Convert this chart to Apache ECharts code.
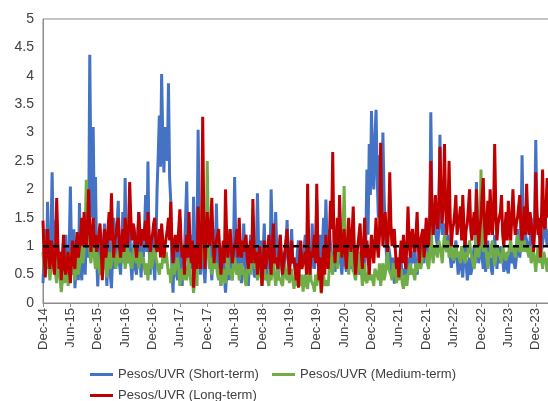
<!DOCTYPE html>
<html>
<head>
<meta charset="utf-8">
<script src="https://cdn.jsdelivr.net/npm/echarts@6/dist/echarts.min.js"></script>
<style>html,body{margin:0;padding:0;background:#fff}#c{width:548px;height:401px}</style>
</head>
<body>
<div id="c"></div>
<script>
// Four readings per month, starting Dec-14 (month index 0), ending Feb-24
var seriesNames = ['Pesos/UVR (Short-term)', 'Pesos/UVR (Medium-term)', 'Pesos/UVR (Long-term)'];
var monthNames = ['Jan','Feb','Mar','Apr','May','Jun','Jul','Aug','Sep','Oct','Nov','Dec'];
var referenceLevel = 1;

var shortTerm = [
  0.35,0.9,1.3,0.6, 1.78,0.8,0.5,1.2, 2.3,1.1,0.7,1.4, 1.5,0.8,0.45,0.9, 0.26,0.7,1.1,0.5,
  1.2,0.4,0.6,1.0, 2.05,0.9,0.5,1.3, 0.26,0.6,1.0,0.4, 1.76,0.7,0.4,1.1, 0.9,0.5,1.3,0.8,
  1.2,4.37,2.2,1.5, 3.1,1.4,2.22,0.8, 0.29,0.8,1.1,0.5, 0.6,1.1,1.4,0.7, 0.3,0.9,1.2,0.5,
  0.26,0.8,1.5,0.6, 0.9,1.4,1.8,0.7, 0.5,1.0,1.6,0.8, 2.2,1.0,0.7,1.3, 1.4,0.7,0.4,0.9,
  1.1,0.6,0.5,1.2, 1.6,0.8,0.45,1.0, 0.8,1.3,1.9,0.9, 2.49,1.0,0.5,1.1, 1.2,0.7,0.4,1.0,
  2.0,2.6,3.3,2.4, 4.03,2.9,2.3,3.1, 3.1,2.5,3.87,2.2, 1.8,0.6,0.18,0.9, 1.0,0.5,0.4,1.1,
  1.5,0.7,0.3,0.8, 0.9,1.5,2.14,1.0, 0.5,0.9,1.2,0.6, 1.87,0.8,0.3,1.0, 3.05,1.2,0.5,0.9,
  1.2,0.6,0.35,0.8, 0.9,1.2,1.5,0.7, 0.4,0.9,1.3,0.6, 1.75,0.9,0.5,1.0, 0.3,0.7,1.0,0.5,
  0.18,0.5,0.8,0.4, 1.3,0.7,0.4,0.9, 2.22,1.1,0.6,1.0, 0.9,0.5,0.35,0.8, 1.4,0.8,0.5,1.0,
  0.3,0.7,1.2,0.6, 0.8,0.5,0.45,0.9, 1.93,1.0,0.6,1.1, 0.5,0.9,1.4,0.7, 0.4,0.8,1.1,0.6,
  2.0,1.2,0.7,1.0, 1.6,0.9,0.5,0.8, 1.2,0.7,0.45,0.9, 0.7,1.0,1.46,0.8, 0.55,0.9,1.3,0.7,
  0.8,0.6,0.5,0.9, 1.1,0.7,0.6,0.9, 0.7,1.0,1.2,0.6, 0.5,0.8,1.0,0.6, 1.4,0.8,0.6,1.0,
  1.82,1.0,0.7,1.2, 0.6,1.0,1.5,0.8, 1.82,1.1,0.8,1.3, 1.3,0.8,0.6,0.9, 0.55,0.8,1.0,0.7,
  1.1,0.7,0.5,0.8, 0.9,0.7,0.55,1.0, 1.2,0.8,0.6,0.9, 0.55,0.8,1.0,0.7, 0.7,0.6,0.5,0.9,
  1.0,0.7,0.6,1.1, 2.35,1.2,2.8,1.9, 3.38,2.4,2.0,2.9, 3.4,2.2,1.5,2.6, 2.5,1.8,3.0,1.9,
  1.3,0.9,0.6,1.0, 1.0,0.7,0.5,0.8, 0.34,0.6,0.8,0.5, 0.45,0.8,0.7,0.5, 0.6,0.5,0.4,0.7,
  0.8,0.6,0.5,0.9, 0.7,0.9,1.0,0.6, 0.5,0.7,0.9,0.6, 1.1,0.8,0.7,1.0, 1.4,1.0,0.8,1.2,
  3.36,1.8,1.2,1.5, 1.5,1.1,1.0,1.3, 2.96,1.6,1.2,1.4, 1.4,1.0,0.9,1.2, 1.0,0.8,0.62,0.9,
  0.7,0.9,1.1,0.8, 0.5,0.7,0.9,0.6, 0.45,0.8,1.2,0.7, 0.4,0.6,0.8,0.5, 0.6,0.8,1.0,0.7,
  2.13,1.1,0.7,0.9, 1.0,0.8,0.6,0.9, 0.55,0.8,1.1,0.7, 0.8,0.6,0.5,0.9, 1.2,0.8,0.6,1.0,
  0.7,0.9,1.0,0.8, 0.55,0.7,0.8,0.6, 0.52,0.8,1.0,0.7, 0.9,0.7,0.6,0.8, 1.3,1.0,0.8,1.1,
  2.6,1.4,1.0,1.2, 1.2,1.0,0.85,1.1, 1.5,1.1,1.0,1.3, 2.87,1.6,1.3,1.2, 1.1,0.9,0.9,1.2,
  1.8,1.2,1.0,1.3
];

var mediumTerm = [
  0.9,0.6,0.5,0.8, 1.2,0.7,0.4,0.6, 0.6,0.8,1.0,0.5, 0.35,0.6,0.8,0.5, 0.19,0.4,0.6,0.35,
  0.5,0.7,0.3,0.6, 0.9,0.5,0.6,0.8, 0.4,0.7,0.8,0.5, 0.5,0.8,1.0,0.7, 0.9,1.3,2.17,1.1,
  1.2,0.9,0.7,1.0, 1.4,0.8,0.6,0.9, 0.8,0.6,0.5,0.9, 1.0,0.7,0.6,0.8, 0.45,0.7,0.9,0.6,
  0.7,0.9,1.1,0.8, 0.6,0.8,0.9,0.7, 1.2,0.9,0.7,1.0, 0.6,0.8,1.0,0.7, 0.9,0.7,0.6,0.8,
  1.0,0.8,0.7,0.9, 0.6,0.8,0.9,0.7, 0.8,0.6,0.5,0.7, 0.4,0.7,0.9,0.6, 0.7,0.9,1.0,0.8,
  0.8,0.6,0.5,0.7, 0.6,0.8,1.0,0.7, 0.9,0.7,0.5,0.6, 0.35,0.6,0.7,0.5, 0.5,0.7,0.8,0.6,
  0.3,0.5,0.6,0.4, 0.7,0.5,0.4,0.6, 0.8,0.5,0.3,0.4, 0.18,0.4,0.5,0.3, 1.1,0.8,0.6,0.9,
  1.6,1.0,0.7,0.8, 2.5,1.2,0.6,0.8, 0.5,0.7,0.9,0.6, 0.7,0.5,0.4,0.6, 0.3,0.5,0.6,0.4,
  0.35,0.6,0.9,0.5, 0.6,0.5,0.4,0.7, 0.8,0.6,0.5,0.7, 0.4,0.6,0.7,0.5, 0.6,0.4,0.3,0.5,
  0.9,0.7,0.5,0.8, 1.54,0.9,0.6,0.7, 0.4,0.6,0.7,0.5, 0.3,0.5,0.6,0.4, 0.5,0.4,0.3,0.6,
  0.4,0.6,0.8,0.5, 0.3,0.5,0.6,0.4, 0.45,0.35,0.3,0.5, 0.7,0.5,0.4,0.6, 0.35,0.5,0.6,0.4,
  0.25,0.4,0.5,0.3, 0.6,0.4,0.3,0.5, 0.2,0.4,0.5,0.3, 0.25,0.5,0.7,0.4, 0.4,0.3,0.2,0.5,
  0.3,0.5,0.6,0.4, 0.17,0.4,0.5,0.3, 0.4,0.35,0.3,0.6, 0.9,0.6,0.5,0.8, 1.2,0.8,0.6,1.0,
  1.5,1.0,0.8,1.2, 2.06,1.0,0.6,0.8, 0.5,0.8,1.0,0.7, 0.7,0.5,0.4,0.6, 0.5,0.7,0.9,0.6,
  0.3,0.5,0.7,0.4, 0.35,0.5,0.6,0.4, 0.5,0.4,0.3,0.6, 0.6,0.5,0.4,0.7, 0.3,0.5,0.7,0.4,
  0.5,0.7,0.9,0.6, 0.6,0.5,0.4,0.7, 0.7,0.5,0.35,0.6, 0.4,0.5,0.6,0.35, 0.25,0.4,0.5,0.3,
  0.5,0.6,0.7,0.5, 0.6,0.5,0.4,0.7, 0.55,0.7,0.8,0.6, 0.7,0.9,1.2,0.8, 0.9,0.7,0.6,0.8,
  1.7,1.0,0.7,0.9, 1.0,0.9,0.8,1.1, 1.1,0.9,0.7,1.0, 1.2,1.0,0.9,1.1, 0.8,0.9,1.1,0.8,
  0.75,0.9,1.0,0.8, 0.9,0.8,0.7,1.0, 1.0,0.8,0.7,0.9, 0.8,1.0,1.1,0.9, 0.9,0.7,0.6,0.8,
  1.2,0.9,0.8,1.0, 2.35,1.3,0.9,1.1, 1.0,0.8,0.6,0.9, 0.8,1.0,1.1,0.9, 0.65,0.8,1.0,0.9,
  0.9,0.8,0.7,1.0, 1.0,0.8,0.75,0.9, 0.85,1.0,1.1,0.9, 1.0,0.9,0.8,1.0, 1.2,1.0,0.9,1.1,
  0.9,1.0,1.1,0.9, 1.0,0.9,0.8,1.0, 0.7,0.8,0.9,0.75, 0.55,0.8,1.0,0.7, 1.2,0.8,0.6,0.9,
  0.9,0.7,0.55,0.8
];

var longTerm = [
  1.45,0.8,0.45,1.0, 1.3,0.9,0.6,1.1, 1.0,0.7,0.5,0.9, 1.85,1.1,0.6,0.9, 0.4,0.8,1.2,0.6,
  0.5,0.7,0.9,0.6, 0.35,0.8,1.1,0.7, 0.6,1.0,1.25,0.8, 0.8,1.2,1.5,1.0, 1.6,1.2,1.0,1.4,
  2.0,1.3,0.9,1.2, 1.5,1.0,1.2,0.9, 0.9,1.2,1.4,1.0, 0.4,0.9,1.3,0.8, 1.0,1.3,1.6,1.1,
  1.93,1.2,0.8,1.1, 1.2,1.4,1.5,1.0, 0.8,1.1,1.3,0.9, 1.5,1.2,1.0,1.3, 2.13,1.5,1.1,1.4,
  1.3,1.0,0.8,1.1, 1.6,1.2,1.0,1.3, 1.1,1.3,1.45,1.0, 1.6,1.2,0.9,1.1, 1.2,1.4,1.5,1.0,
  0.9,1.1,1.3,0.8, 1.4,1.1,0.8,1.0, 1.0,1.3,1.5,1.1, 1.78,1.1,0.7,1.0, 1.2,1.0,0.9,1.3,
  1.65,1.1,0.8,1.0, 0.5,0.9,1.2,0.8, 1.6,1.0,0.7,1.1, 0.27,0.7,1.0,0.6, 1.7,1.0,0.6,1.2,
  3.28,1.5,0.6,1.1, 1.6,1.2,1.0,1.4, 1.85,1.1,0.7,1.0, 1.0,1.2,1.3,0.9, 0.5,0.8,1.1,0.7,
  2.0,1.2,0.8,1.0, 1.3,1.0,0.7,0.9, 0.9,1.1,1.3,0.8, 1.5,1.0,0.8,1.1, 0.9,1.1,1.2,0.8,
  0.6,0.9,1.1,0.7, 1.83,1.0,0.7,0.9, 0.5,0.8,1.0,0.7, 0.3,0.7,1.1,0.6, 0.6,0.9,1.2,0.8,
  0.5,1.0,1.4,0.7, 0.8,0.7,0.6,0.9, 1.2,0.8,0.5,0.7, 0.9,1.1,1.3,0.8, 0.5,0.8,1.1,0.7,
  0.8,0.6,0.4,0.7, 0.27,0.8,1.1,0.6, 0.6,0.8,0.9,0.5, 2.1,1.0,0.5,0.9, 0.8,1.0,1.2,0.7,
  2.1,0.9,0.4,0.8, 0.18,0.6,1.0,0.5, 1.2,0.8,0.6,1.0, 1.8,1.3,2.66,1.1, 0.7,1.1,1.5,0.9,
  1.9,1.2,0.8,1.0, 1.3,0.9,0.6,1.1, 1.5,1.1,0.9,1.2, 1.7,0.9,0.5,0.8, 1.0,1.2,1.4,0.9,
  0.6,1.0,1.5,0.8, 1.1,0.8,0.5,0.9, 1.2,0.9,0.7,1.1, 1.5,1.0,0.8,1.2, 2.82,1.6,1.0,1.4,
  1.6,1.2,0.9,1.3, 2.3,1.4,1.0,1.2, 1.3,0.9,0.6,0.8, 0.45,0.8,1.1,0.7, 1.2,0.9,0.6,1.0,
  1.7,1.1,0.8,1.2, 1.3,1.0,0.9,1.2, 1.6,1.0,0.7,1.1, 1.1,1.3,0.8,1.0, 1.5,1.2,1.0,1.4,
  2.5,1.6,1.2,1.5, 1.9,1.5,1.3,1.7, 2.75,1.8,1.4,1.9, 2.8,1.7,1.2,1.6, 2.5,1.5,1.0,1.3,
  1.4,1.6,1.9,1.2, 1.2,1.5,1.7,1.1, 1.9,1.4,1.0,1.3, 1.4,1.7,2.0,1.3, 1.1,1.4,1.6,1.2,
  2.0,1.4,1.0,1.3, 1.5,1.9,2.2,1.4, 1.0,1.4,1.8,1.2, 2.0,1.5,1.2,1.6, 2.8,1.6,1.1,1.4,
  1.4,1.6,1.9,1.2, 1.0,1.3,1.6,1.1, 1.8,1.4,1.1,1.5, 2.0,1.5,1.2,1.4, 1.5,1.7,1.9,1.3,
  1.1,1.4,1.7,1.2, 2.1,1.5,1.2,1.6, 1.6,1.2,0.9,1.3, 2.3,1.6,1.2,1.5, 0.8,1.5,2.35,1.4,
  1.3,1.7,2.2,1.5
];

var STEP = 0.25; // months between readings
function toPoints(arr) {
  return arr.map(function (v, i) { return [i * STEP, v]; });
}
var lastMonth = (shortTerm.length - 1) * STEP;

var chart = echarts.init(document.getElementById('c'), null, {renderer: 'canvas'});
var font = 'Liberation Sans, Arial, sans-serif';
var colors = ['#4472C4', '#70AD47', '#C00000'];

var legendCommon = {
  icon: 'rect', itemWidth: 23, itemHeight: 3,
  textStyle: {fontFamily: font, fontSize: 13, color: '#404040'},
  padding: 0
};

chart.setOption({
  animation: false,
  color: colors,
  grid: {left: 43, top: 19, width: 511, height: 284, show: true, borderColor: '#8c8c8c', borderWidth: 1,
         containLabel: false, outerBoundsMode: 'none'},
  legend: [
    Object.assign({data: [seriesNames[0]], left: 90, top: 368}, legendCommon),
    Object.assign({data: [seriesNames[1]], left: 272, top: 368}, legendCommon),
    Object.assign({data: [seriesNames[2]], left: 90, top: 389}, legendCommon)
  ],
  xAxis: {
    type: 'value', min: 0, max: 112, interval: 6,
    splitLine: {show: false},
    axisLine: {show: true, lineStyle: {color: '#8c8c8c'}},
    axisTick: {show: true, length: 4, lineStyle: {color: '#8c8c8c'}},
    axisLabel: {
      rotate: 90, margin: 5, fontFamily: font, fontSize: 13, color: '#404040',
      formatter: function (v) {
        if (v % 6 !== 0) return '';
        var m = 11 + v;
        var y = 14 + Math.floor(m / 12);
        return monthNames[m % 12] + '-' + y;
      }
    }
  },
  yAxis: {
    type: 'value', min: 0, max: 5, interval: 0.5,
    splitLine: {show: false},
    axisLine: {show: true, lineStyle: {color: '#8c8c8c'}},
    axisTick: {show: false},
    axisLabel: {margin: 9, fontFamily: font, fontSize: 14, color: '#404040'}
  },
  series: [
    {name: seriesNames[0], type: 'line', data: toPoints(shortTerm), showSymbol: false, symbol: 'none', lineStyle: {width: 3}, z: 2},
    {name: seriesNames[1], type: 'line', data: toPoints(mediumTerm), showSymbol: false, symbol: 'none', lineStyle: {width: 3}, z: 3},
    {name: seriesNames[2], type: 'line', data: toPoints(longTerm), showSymbol: false, symbol: 'none', lineStyle: {width: 3}, z: 4},
    {name: 'ref', type: 'line', data: [[0, referenceLevel], [lastMonth, referenceLevel]], showSymbol: false, symbol: 'none',
     lineStyle: {width: 2.5, color: '#000', type: [6, 4]}, z: 5}
  ]
});
</script>
</body>
</html>
